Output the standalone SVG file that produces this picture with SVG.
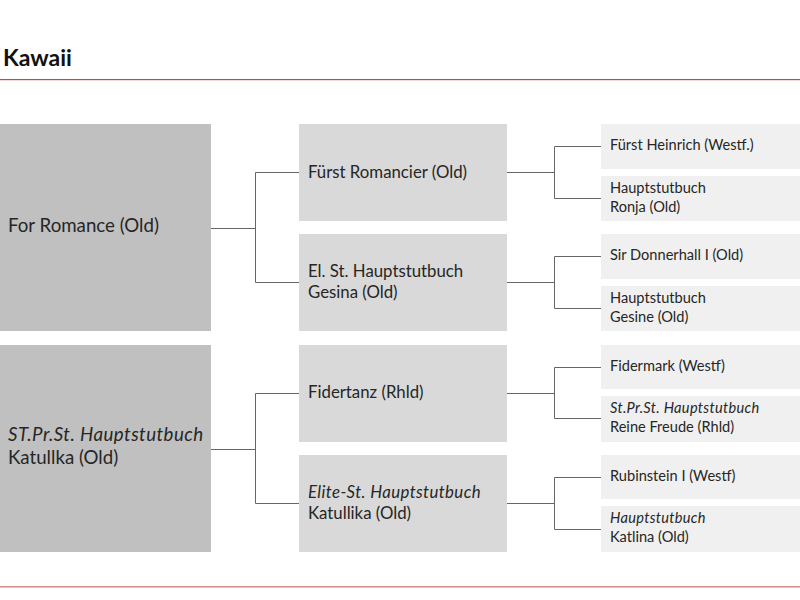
<svg xmlns="http://www.w3.org/2000/svg" width="800" height="600" viewBox="0 0 800 600">
<style>
text{font-family:Lato,"Noto Sans","Liberation Sans",sans-serif;fill:#262626}
.title{font-size:23px;font-weight:bold;fill:#111}
.c1{fill:#c0c0c0}
.c2{fill:#d9d9d9}
.c3{fill:#f0f0f0}
.t1{font-size:18.7px}
.t2{font-size:16.8px}
.t3{font-size:14.6px}
.it{font-style:italic}
.t1 .it{letter-spacing:0.45px}
.t2 .it{letter-spacing:0.4px}
.t3 .it{letter-spacing:0.3px}
.conn path{fill:none;stroke:#666;stroke-width:1}
</style>
<rect width="800" height="600" fill="#fff"/>
<text class="title" x="3" y="66">Kawaii</text>
<rect x="0" y="79" width="800" height="1.2" fill="#c9474c"/>
<rect x="0" y="586" width="800" height="1.5" fill="#d6878a"/>

<g class="conn">
<path d="M211 228.5H255.5M255.5 172.5V282.5M255.5 172.5H299M255.5 282.5H299"/>
<path d="M211 449.5H255.5M255.5 393.5V503.5M255.5 393.5H299M255.5 503.5H299"/>
<path d="M507 172.5H554.5M554.5 146.5V198.5M554.5 146.5H601M554.5 198.5H601"/>
<path d="M507 282.5H554.5M554.5 256.5V308.5M554.5 256.5H601M554.5 308.5H601"/>
<path d="M507 393.5H554.5M554.5 367.5V418.5M554.5 367.5H601M554.5 418.5H601"/>
<path d="M507 503.5H554.5M554.5 477.5V529.5M554.5 477.5H601M554.5 529.5H601"/>
</g>

<g id="n1"><rect class="c1" x="0" y="124" width="211" height="207"/><text class="t1" x="8" y="232">For Romance (Old)</text></g>
<g id="n2"><rect class="c1" x="0" y="345" width="211" height="207"/><text class="t1" x="8" y="441"><tspan class="it">ST.Pr.St. Hauptstutbuch</tspan><tspan x="8" y="464">Katullka (Old)</tspan></text></g>

<g id="n11"><rect class="c2" x="299" y="124" width="208" height="97"/><text class="t2" x="308" y="178">Fürst Romancier (Old)</text></g>
<g id="n12"><rect class="c2" x="299" y="234" width="208" height="97"/><text class="t2" x="308" y="277">El. St. Hauptstutbuch<tspan x="308" y="298">Gesina (Old)</tspan></text></g>
<g id="n21"><rect class="c2" x="299" y="345" width="208" height="97"/><text class="t2" x="308" y="398">Fidertanz (Rhld)</text></g>
<g id="n22"><rect class="c2" x="299" y="455" width="208" height="97"/><text class="t2" x="308" y="498"><tspan class="it">Elite-St. Hauptstutbuch</tspan><tspan x="308" y="519">Katullika (Old)</tspan></text></g>

<g id="n111"><rect class="c3" x="601" y="124" width="199" height="45"/><text class="t3" x="610" y="150">Fürst Heinrich (Westf.)</text></g>
<g id="n112"><rect class="c3" x="601" y="176" width="199" height="45"/><text class="t3" x="610" y="193">Hauptstutbuch<tspan x="610" y="212">Ronja (Old)</tspan></text></g>
<g id="n121"><rect class="c3" x="601" y="234" width="199" height="45"/><text class="t3" x="610" y="260">Sir Donnerhall I (Old)</text></g>
<g id="n122"><rect class="c3" x="601" y="286" width="199" height="45"/><text class="t3" x="610" y="303">Hauptstutbuch<tspan x="610" y="322">Gesine (Old)</tspan></text></g>
<g id="n211"><rect class="c3" x="601" y="345" width="199" height="44"/><text class="t3" x="610" y="371">Fidermark (Westf)</text></g>
<g id="n212"><rect class="c3" x="601" y="396" width="199" height="46"/><text class="t3" x="610" y="413"><tspan class="it">St.Pr.St. Hauptstutbuch</tspan><tspan x="610" y="432">Reine Freude (Rhld)</tspan></text></g>
<g id="n221"><rect class="c3" x="601" y="455" width="199" height="44"/><text class="t3" x="610" y="481">Rubinstein I (Westf)</text></g>
<g id="n222"><rect class="c3" x="601" y="506" width="199" height="46"/><text class="t3" x="610" y="523"><tspan class="it">Hauptstutbuch</tspan><tspan x="610" y="542">Katlina (Old)</tspan></text></g>
</svg>
